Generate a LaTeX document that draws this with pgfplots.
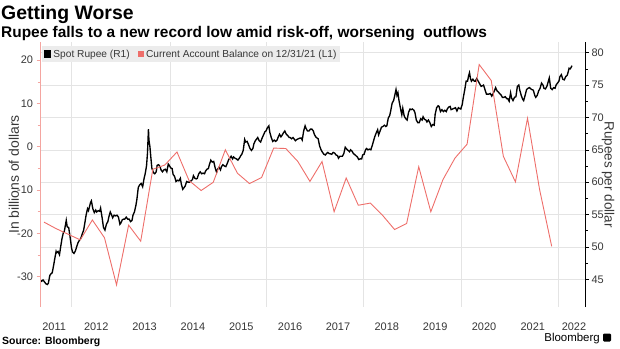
\documentclass[border=0pt]{standalone}
\usepackage{pgfplots}
\pgfplotsset{compat=1.18}
\usepackage{fontspec}
\setmainfont{Liberation Sans}
\definecolor{cared}{RGB}{238,110,106}
\definecolor{axred}{RGB}{244,165,160}
\definecolor{gridc}{RGB}{228,228,228}
\definecolor{tickc}{RGB}{55,55,55}
\definecolor{leggray}{RGB}{236,236,236}

\pgfplotstableread{
t r
2011.42 44.9
2011.45 44.7
2011.48 44.9
2011.51 44.6
2011.54 44.3
2011.57 44.2
2011.59 44.4
2011.62 45.6
2011.65 45.9
2011.67 46.0
2011.70 47.2
2011.73 48.5
2011.75 49.3
2011.76 49.1
2011.79 49.3
2011.82 48.8
2011.84 49.8
2011.87 51.2
2011.90 52.2
2011.92 52.4
2011.96 54.1
2011.98 53.1
2012.01 53.0
2012.04 51.5
2012.07 49.8
2012.09 49.2
2012.12 49.0
2012.15 49.4
2012.17 49.9
2012.20 50.6
2012.23 51.0
2012.26 51.3
2012.29 52.0
2012.32 52.6
2012.34 53.5
2012.37 54.9
2012.40 55.9
2012.42 55.6
2012.46 56.8
2012.48 57.1
2012.51 55.9
2012.54 55.3
2012.57 55.7
2012.59 55.4
2012.62 55.6
2012.65 55.5
2012.67 56.0
2012.70 54.6
2012.73 53.0
2012.76 52.6
2012.79 53.5
2012.82 53.9
2012.84 54.6
2012.87 55.4
2012.90 54.9
2012.92 54.5
2012.95 54.9
2012.98 54.8
2013.01 54.9
2013.04 54.6
2013.07 53.5
2013.09 53.7
2013.12 54.2
2013.15 54.3
2013.17 54.3
2013.20 54.6
2013.23 54.3
2013.26 54.3
2013.29 53.9
2013.32 54.1
2013.34 54.9
2013.37 55.4
2013.40 56.4
2013.42 57.3
2013.45 59.2
2013.48 59.6
2013.51 59.8
2013.54 59.3
2013.57 60.6
2013.59 61.2
2013.62 62.5
2013.64 64.5
2013.66 68.2
2013.67 66.5
2013.69 65.5
2013.71 63.8
2013.73 62.2
2013.76 61.5
2013.79 61.3
2013.82 61.6
2013.84 62.6
2013.87 62.7
2013.90 62.4
2013.92 61.9
2013.95 61.6
2013.98 61.9
2014.01 62.0
2014.04 61.6
2014.07 62.8
2014.09 62.6
2014.12 62.2
2014.15 62.1
2014.17 61.2
2014.20 60.9
2014.23 60.1
2014.26 60.3
2014.29 60.2
2014.32 60.6
2014.34 59.7
2014.37 58.9
2014.40 59.2
2014.42 59.4
2014.45 60.1
2014.48 60.0
2014.51 60.0
2014.54 60.2
2014.57 60.4
2014.59 61.0
2014.62 60.6
2014.65 60.5
2014.67 60.6
2014.70 61.3
2014.73 61.6
2014.76 61.3
2014.79 61.4
2014.82 61.3
2014.84 61.7
2014.87 62.0
2014.90 62.1
2014.92 62.7
2014.95 63.4
2014.98 63.1
2015.01 63.2
2015.04 62.2
2015.07 61.5
2015.09 62.0
2015.12 62.3
2015.15 61.9
2015.17 62.4
2015.20 62.7
2015.23 62.5
2015.26 62.4
2015.29 62.9
2015.32 63.5
2015.34 63.7
2015.37 64.0
2015.40 63.6
2015.42 63.9
2015.45 63.7
2015.48 63.6
2015.51 63.4
2015.54 63.7
2015.57 64.1
2015.59 64.3
2015.62 64.9
2015.65 66.6
2015.67 66.2
2015.70 66.3
2015.73 65.8
2015.76 65.2
2015.79 64.9
2015.82 65.2
2015.84 65.9
2015.87 66.4
2015.90 66.7
2015.92 66.9
2015.95 66.4
2015.98 66.2
2016.01 66.8
2016.04 67.3
2016.07 67.8
2016.09 67.9
2016.12 68.4
2016.15 68.7
2016.17 67.7
2016.20 66.9
2016.23 66.3
2016.26 66.5
2016.29 66.3
2016.32 66.5
2016.34 66.9
2016.37 67.4
2016.40 67.0
2016.42 67.2
2016.45 67.6
2016.48 67.9
2016.51 67.4
2016.54 67.2
2016.57 66.9
2016.59 66.9
2016.62 66.7
2016.65 66.9
2016.67 66.7
2016.70 66.4
2016.73 66.6
2016.76 66.7
2016.79 66.8
2016.82 66.8
2016.84 66.5
2016.87 67.9
2016.90 68.7
2016.92 68.3
2016.95 67.9
2016.98 67.9
2017.01 68.2
2017.04 68.2
2017.07 67.9
2017.09 67.4
2017.12 67.0
2017.15 66.8
2017.17 66.7
2017.20 65.6
2017.23 65.0
2017.26 64.6
2017.29 64.3
2017.32 64.2
2017.34 64.4
2017.37 64.6
2017.40 64.4
2017.42 64.4
2017.45 64.3
2017.48 64.6
2017.51 64.5
2017.54 64.2
2017.57 64.1
2017.59 63.7
2017.62 64.0
2017.65 64.0
2017.67 64.0
2017.70 64.4
2017.73 65.4
2017.76 65.1
2017.79 64.9
2017.82 64.7
2017.84 65.0
2017.87 64.8
2017.90 64.4
2017.92 64.3
2017.95 64.1
2017.98 63.9
2018.01 63.5
2018.04 63.6
2018.07 63.6
2018.09 64.2
2018.12 64.3
2018.15 65.0
2018.17 65.2
2018.20 65.0
2018.23 65.1
2018.26 65.0
2018.29 65.7
2018.32 66.5
2018.34 67.0
2018.37 67.6
2018.40 68.1
2018.42 67.3
2018.45 67.9
2018.48 68.5
2018.51 68.6
2018.54 68.8
2018.57 68.6
2018.59 68.7
2018.62 69.9
2018.65 70.3
2018.67 71.0
2018.70 72.2
2018.73 72.6
2018.76 73.6
2018.78 74.3
2018.80 73.4
2018.82 73.8
2018.84 72.7
2018.87 71.5
2018.90 70.4
2018.92 71.4
2018.95 70.2
2018.98 69.8
2019.01 69.6
2019.04 70.8
2019.07 71.3
2019.09 71.2
2019.12 71.3
2019.15 71.1
2019.17 70.8
2019.20 69.6
2019.23 69.2
2019.26 69.2
2019.29 69.8
2019.32 69.6
2019.34 70.1
2019.37 69.7
2019.40 69.6
2019.42 69.3
2019.45 69.6
2019.48 69.2
2019.51 68.6
2019.54 68.9
2019.57 68.8
2019.59 70.5
2019.62 71.5
2019.65 71.8
2019.67 71.7
2019.70 70.9
2019.73 71.2
2019.76 70.9
2019.79 71.1
2019.82 70.9
2019.84 71.3
2019.87 71.6
2019.90 71.7
2019.92 71.2
2019.95 71.3
2019.98 71.4
2020.01 71.5
2020.04 71.0
2020.07 71.5
2020.09 71.4
2020.12 71.3
2020.15 72.0
2020.17 73.0
2020.20 74.2
2020.23 75.6
2020.26 75.6
2020.28 76.4
2020.30 76.9
2020.32 76.0
2020.34 75.6
2020.37 75.9
2020.40 75.6
2020.42 75.6
2020.45 76.0
2020.48 75.6
2020.51 75.2
2020.54 74.8
2020.57 74.9
2020.59 75.0
2020.62 74.3
2020.65 73.6
2020.67 73.6
2020.70 73.6
2020.73 73.7
2020.76 73.3
2020.79 73.7
2020.82 74.2
2020.84 74.6
2020.87 74.1
2020.90 73.9
2020.92 73.7
2020.95 73.5
2020.98 73.1
2021.01 73.1
2021.04 73.2
2021.07 72.9
2021.09 72.9
2021.12 72.5
2021.15 73.8
2021.17 73.0
2021.20 72.6
2021.23 73.1
2021.26 73.2
2021.29 74.8
2021.32 75.0
2021.34 74.2
2021.37 73.4
2021.40 72.8
2021.42 72.6
2021.45 73.4
2021.48 74.3
2021.51 74.5
2021.54 74.6
2021.57 74.4
2021.59 74.3
2021.62 74.2
2021.65 73.4
2021.67 73.1
2021.70 73.4
2021.73 74.1
2021.76 74.5
2021.79 75.3
2021.82 75.0
2021.84 74.5
2021.87 74.4
2021.90 74.8
2021.92 75.3
2021.95 76.1
2021.98 74.5
2022.01 74.3
2022.04 74.6
2022.07 74.5
2022.09 75.0
2022.12 75.3
2022.15 75.6
2022.17 76.3
2022.20 76.6
2022.23 75.9
2022.26 75.8
2022.29 76.3
2022.32 76.5
2022.34 77.0
2022.36 77.6
2022.38 77.5
2022.40 77.7
2022.42 78.0
}\rupee

\pgfplotstableread{
t ca
2011.50 -17.4
2011.75 -18.9
2012.00 -20.2
2012.25 -21.5
2012.50 -16.9
2012.75 -21.0
2013.00 -31.9
2013.25 -18.1
2013.50 -21.8
2013.75 -5.2
2014.00 -4.2
2014.25 -1.2
2014.50 -7.8
2014.75 -10.1
2015.00 -8.2
2015.25 -0.7
2015.50 -6.1
2015.75 -8.5
2016.00 -7.1
2016.25 -0.3
2016.50 -0.4
2016.75 -3.4
2017.00 -8.0
2017.25 -3.4
2017.50 -15.0
2017.75 -7.2
2018.00 -13.5
2018.25 -13.0
2018.50 -15.8
2018.75 -19.1
2019.00 -17.7
2019.25 -4.6
2019.50 -15.0
2019.75 -7.6
2020.00 -2.6
2020.25 0.6
2020.50 19.0
2020.75 15.3
2021.00 -2.2
2021.25 -8.1
2021.50 6.6
2021.75 -9.9
2022.00 -23.0
}\cabal

\begin{document}
\begin{tikzpicture}[x=1bp,y=1bp]
\useasboundingbox (0,0) rectangle (620,348);
\node[anchor=base west, inner sep=0, font=\bfseries\fontsize{19.5}{22}\selectfont] at (1,328.5) {Getting Worse};
\node[anchor=base west, inner sep=0, font=\bfseries\fontsize{15.5}{18}\selectfont] at (1,311) {Rupee falls to a new record low amid risk-off, worsening\ \ outflows};

\begin{axis}[
  at={(40bp,41bp)}, anchor=south west, scale only axis,
  width=545bp, height=265bp,
  xmin=2011.417, xmax=2022.689, ymin=40.72, ymax=81.65,
  axis y line*=right, axis x line*=bottom,
  x axis line style={draw=none},
  y axis line style={black, line width=0.6bp},
  /pgf/number format/assume math mode=true,
  tick align=outside,
  xtick={2011.71,2012.58,2013.58,2014.58,2015.58,2016.59,2017.58,2018.59,2019.59,2020.60,2021.61,2022.46},
  xticklabels={2011,2012,2013,2014,2015,2016,2017,2018,2019,2020,2021,2022},
  major x tick style={draw=none},
  extra x ticks={2012.058,2014.106,2016.092,2018.098,2020.125,2022.131},
  extra x tick labels={},
  extra x tick style={grid=major, major tick length=4bp, tick style={gridc, line width=0.6bp}},
  xticklabel style={font=\fontsize{11}{13}\selectfont, text=tickc, yshift=-8.5bp},
  ytick={45,50,...,80},
  minor y tick num=1,
  ymajorgrids,
  grid style={gridc, line width=0.6bp},
  major y tick style={black, line width=0.6bp},
  minor y tick style={black, line width=0.6bp},
  major tick length=4bp, minor tick length=2.5bp,
  yticklabel style={font=\fontsize{11}{13}\selectfont, text=tickc, xshift=-1bp},
  ylabel={Rupees per dollar},
  every axis y label/.style={at={([xshift=23bp]rel axis cs:1,0.5)}, anchor=center, rotate=-90},
  ylabel style={font=\fontsize{13.5}{16}\selectfont, text=tickc},
  legend style={at={(0.0037,0.985)}, anchor=north west, fill=leggray, draw=none,
    font=\fontsize{10.2}{12}\selectfont, text=tickc, inner sep=1.5bp,
    /tikz/every even column/.append style={column sep=6bp}},
  legend columns=2,
  legend image code/.code={\fill[#1] (0bp,-3.2bp) rectangle (6.4bp,3.2bp);},
]
\addplot[black, line width=1.35bp] table[x=t, y=r] {\rupee};
\addlegendentry{Spot Rupee (R1)}
\addlegendimage{fill=cared, draw=none}
\addlegendentry{Current Account Balance on 12/31/21 (L1)}
\end{axis}

\begin{axis}[
  at={(40bp,41bp)}, anchor=south west, scale only axis,
  width=545bp, height=265bp,
  xmin=2011.417, xmax=2022.689, ymin=-37.0, ymax=24.2,
  axis y line*=left, axis x line=none,
  y axis line style={axred, line width=0.6bp},
  /pgf/number format/assume math mode=true,
  tick align=outside,
  ytick={-30,-20,...,20},
  minor y tick num=1,
  major y tick style={axred, line width=0.6bp},
  minor y tick style={axred, line width=0.6bp},
  major tick length=3.5bp, minor tick length=2.5bp,
  yticklabel style={font=\fontsize{11}{13}\selectfont, text=tickc},
  ylabel={In billions of dollars},
  every axis y label/.style={at={([xshift=-26bp]rel axis cs:0,0.5)}, anchor=center, rotate=90},
  ylabel style={font=\fontsize{14}{16}\selectfont, text=tickc},
]
\addplot[cared, line width=0.9bp] table[x=t, y=ca] {\cabal};
\end{axis}

\node[anchor=base west, inner sep=0, font=\bfseries\fontsize{10.5}{12}\selectfont] at (2,4) {Source: Bloomberg};
\node[anchor=base east, inner sep=0, font=\fontsize{11.5}{13}\selectfont] at (600,7) {Bloomberg};
\fill[black, rounded corners=1.2bp] (603,6.5) rectangle (611,14.5);
\end{tikzpicture}
\end{document}
